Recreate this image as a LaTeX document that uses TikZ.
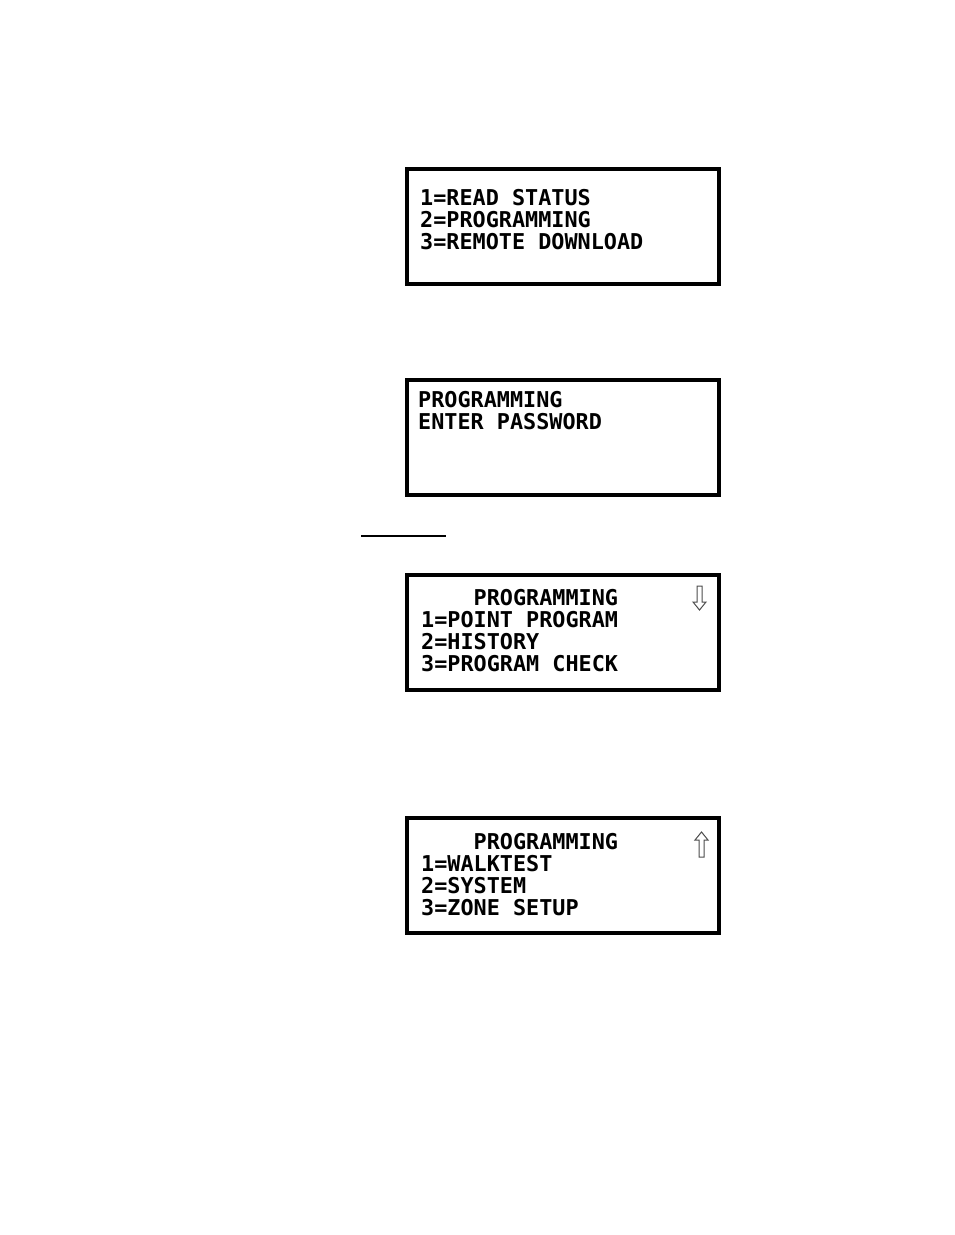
\documentclass[tikz,border=0pt]{standalone}
\usepackage{fontspec}
\setmonofont{DejaVu Sans Mono}
\usetikzlibrary{positioning}
\tikzset{
    %Define style for display screens
    lcd/.style={
           rectangle,
           draw=black, line width=4pt,
           minimum width=312pt,
           minimum height=115pt,
           inner sep=0pt},
    %Define style for display lines
    row/.style={
           anchor=base west,
           inner sep=0pt,
           font=\ttfamily\bfseries\fontsize{21.8}{22}\selectfont},
    % Define scroll arrow style
    scroll/.style={
           draw=black!70,
           line width=1pt,
           line join=miter}
}
\begin{document}
\begin{tikzpicture}[x=1pt,y=-1pt]
    \useasboundingbox (0,0) rectangle (954,1235);
    \node (mainmenu) [lcd] at (563,226.5) {};
    \node (mm1) [row] at (420,205) {1=READ STATUS};
    \node (mm2) [row] at (420,227) {2=PROGRAMMING};
    \node (mm3) [row] at (420,249) {3=REMOTE DOWNLOAD};
    \node (password) [lcd] at (563,437.5) {};
    \node (pw1) [row] at (418,407) {PROGRAMMING};
    \node (pw2) [row] at (418,429) {ENTER PASSWORD};
    \coordinate (ulstart) at (361,536);
    \coordinate (ulend) at (446,536);
    \draw [line width=2pt] (ulstart) -- (ulend);
    \node (progone) [lcd] at (563,632) {};
    \node (po0) [row] at (421,605) {\phantom{0000}PROGRAMMING};
    \node (po1) [row] at (421,627) {1=POINT PROGRAM};
    \node (po2) [row] at (421,649) {2=HISTORY};
    \node (po3) [row] at (421,671) {3=PROGRAM CHECK};
    \coordinate (down) at (699.5,610);
    \draw [scroll] (down) -- ++(-6.5,-8) -- ++(4,0) -- ++(0,-16)
          -- ++(5,0) -- ++(0,16) -- ++(4,0) -- cycle;
    \node (progtwo) [lcd] at (563,875.5) {};
    \node (pt0) [row] at (421,849) {\phantom{0000}PROGRAMMING};
    \node (pt1) [row] at (421,871) {1=WALKTEST};
    \node (pt2) [row] at (421,893) {2=SYSTEM};
    \node (pt3) [row] at (421,915) {3=ZONE SETUP};
    \coordinate (up) at (701.5,832);
    \draw [scroll] (up) -- ++(-6.5,8) -- ++(4,0) -- ++(0,17)
          -- ++(5,0) -- ++(0,-17) -- ++(4,0) -- cycle;
\end{tikzpicture}
\end{document}
